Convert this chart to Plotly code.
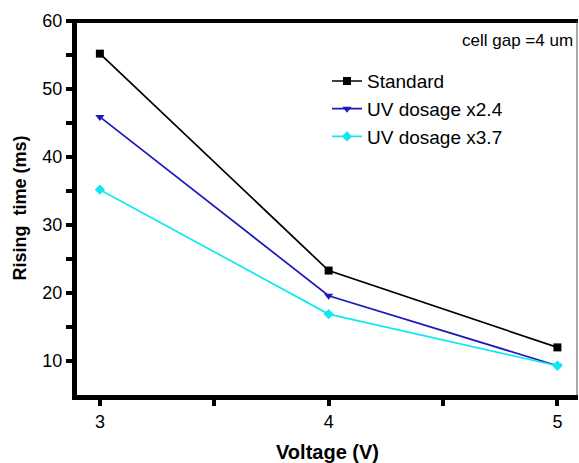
import plotly.graph_objects as go

voltage = [3, 4, 5]
standard = [55.2, 23.3, 12.0]
uv_x24 = [45.9, 19.6, 9.3]
uv_x37 = [35.2, 16.9, 9.3]

x_ticks = [3, 3.5, 4, 4.5, 5]
x_labels = ["3", "", "4", "", "5"]
y_ticks = [10, 15, 20, 25, 30, 35, 40, 45, 50, 55, 60]
y_labels = ["10", "", "20", "", "30", "", "40", "", "50", "", "60"]

series = [
    ("Standard", standard, "#000000", "square"),
    ("UV dosage x2.4", uv_x24, "#1a1ab8", "triangle-down"),
    ("UV dosage x3.7", uv_x37, "#10e8f0", "diamond"),
]

fig = go.Figure()
for name, vals, color, sym in series:
    fig.add_trace(go.Scatter(
        x=voltage, y=vals, name=name, mode="lines+markers",
        line=dict(color=color, width=1.7),
        marker=dict(symbol=sym, size=8, color=color),
    ))

font = "Arial, Liberation Sans, sans-serif"
fig.update_layout(
    width=579, height=463,
    margin=dict(l=77, r=1, t=21, b=68),
    paper_bgcolor="white", plot_bgcolor="white",
    font=dict(family=font, color="black", size=19),
    showlegend=True,
    legend=dict(x=0.499, y=0.89, xanchor="left", yanchor="top",
                bgcolor="rgba(0,0,0,0)", font=dict(size=19),
                tracegroupgap=0),
    xaxis=dict(
        range=[2.9, 5.09], tickvals=x_ticks, ticktext=x_labels,
        showgrid=False, zeroline=False,
        showline=True, linecolor="black", linewidth=5,
        ticks="outside", ticklen=6, tickwidth=3.5, tickcolor="black",
        title=dict(text="<b>Voltage (V)</b>", font=dict(size=20), standoff=16),
        tickfont=dict(size=18),
    ),
    yaxis=dict(
        range=[5, 60], tickvals=y_ticks, ticktext=y_labels,
        showgrid=False, zeroline=False,
        showline=True, linecolor="black", linewidth=5,
        ticks="outside", ticklen=6, tickwidth=3.5, tickcolor="black",
        title=dict(text="<b>Rising  time (ms)</b>", font=dict(size=18), standoff=13),
        tickfont=dict(size=18),
    ),
    shapes=[
        dict(type="line", xref="paper", yref="paper", x0=-0.015, x1=1, y0=1, y1=1,
             line=dict(color="black", width=4)),
        dict(type="line", xref="paper", yref="paper", x0=0.998, x1=0.998, y0=0, y1=1,
             line=dict(color="#555555", width=1)),
    ],
    annotations=[
        dict(text="cell gap =4 um", xref="paper", yref="paper", x=0.995, y=0.978,
             xanchor="right", yanchor="top", showarrow=False, font=dict(size=17)),
    ],
)

fig.write_html("out.html")
